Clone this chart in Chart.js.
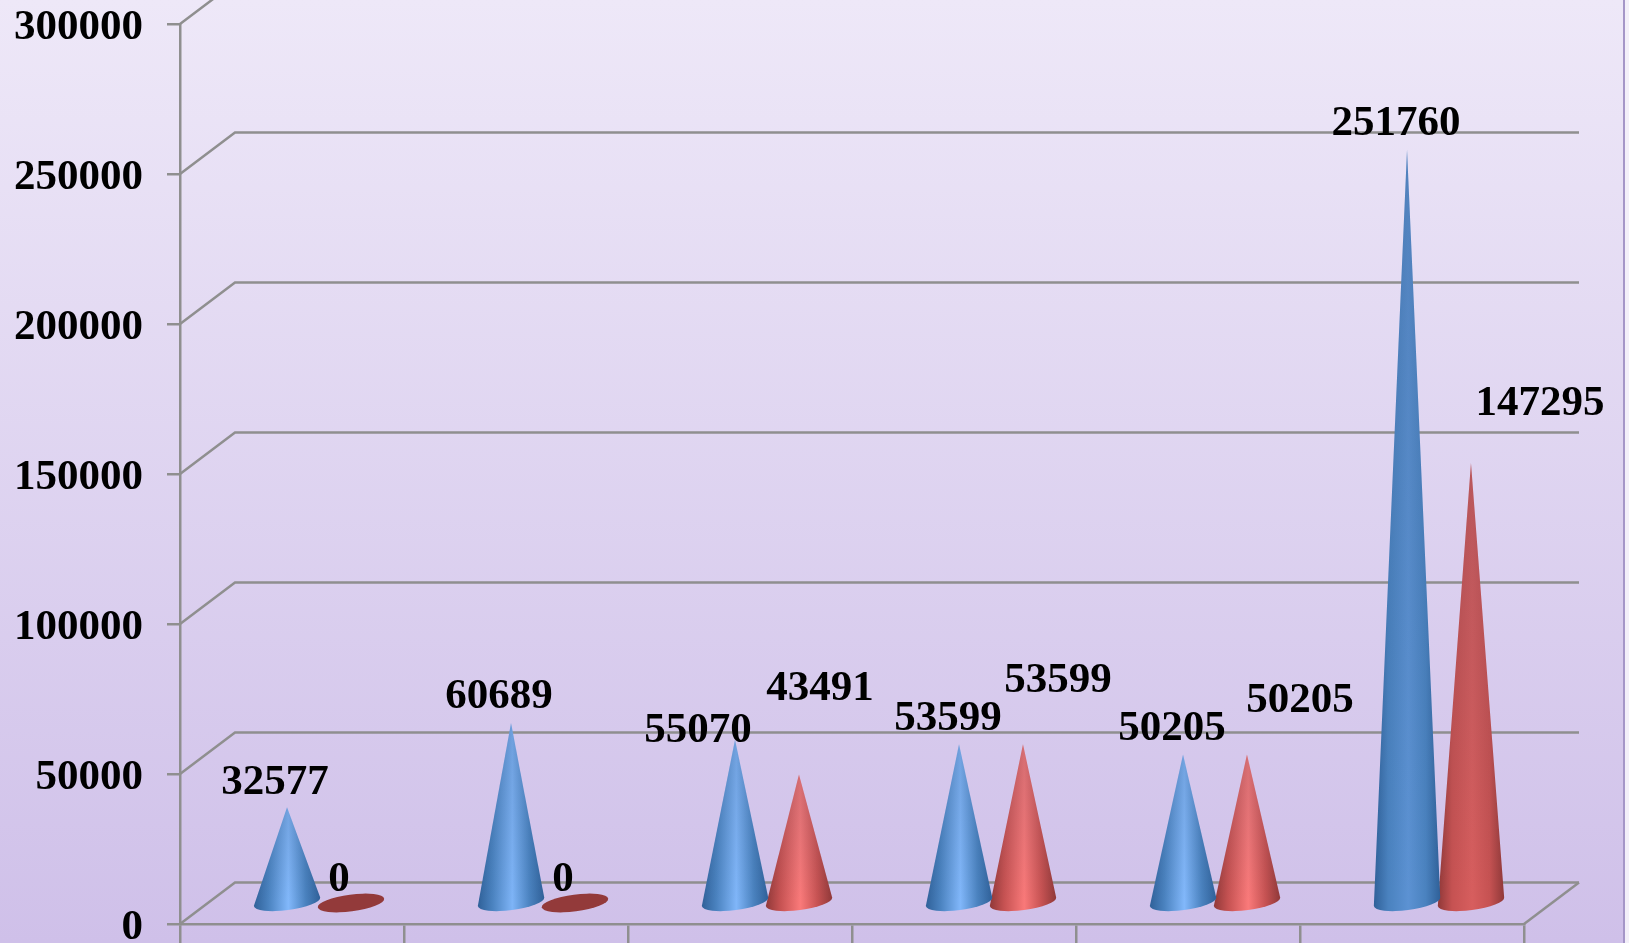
<!DOCTYPE html>
<html>
<head>
<meta charset="utf-8">
<style>
html,body{margin:0;padding:0;overflow:hidden;background:#f3eff9}
#wrap{position:absolute;left:0;top:0;width:1629px;height:943px;overflow:hidden;
background:linear-gradient(180deg,#eee8f8 0%,#cfc0e9 100%)}
#edge{position:absolute;left:1623px;top:0;width:6px;height:943px;background:#f3eff9;border-left:2px solid #a596c8;box-sizing:border-box}
canvas{position:absolute;left:0;top:0}
</style>
</head>
<body>
<div id="wrap"><canvas id="c" width="1629" height="943"></canvas><div id="edge"></div></div>
<script src="https://cdn.jsdelivr.net/npm/chart.js@4/dist/chart.umd.min.js"></script>
<script>
// ---- data ----
const categories = ["1", "2", "3", "4", "5", "6"];
const seriesBlue = [32577, 60689, 55070, 53599, 50205, 251760];
const seriesRed  = [0, 0, 43491, 53599, 50205, 147295];
const yTicks = [0, 50000, 100000, 150000, 200000, 250000, 300000];

// ---- label placement relative to each cone tip (px), by hand as in the reference ----
const blueLabelShift = [[-12,-22],[-12,-24],[-37,-7],[-11,-23],[-11,-23],[-11,-24]];
const redLabelShift  = [[-12,-23],[-12,-23],[21,-84],[35,-61],[53,-51],[69,-57]];

// ---- style ----
const GRID = "#8f8f8f";
const FONT = "bold 43px 'Liberation Serif'";
const DEPTH = {dx: 55, dy: -41.5};       // floor depth of the 3D box
const MID = {dx: 27, dy: -21};           // cones stand mid-way in the depth
const TIP_DROP = 2;
const TICK_DROP = 3.5;
const palette = {
  blue: {edge:"#2f6098", mid:"#4a82bf", lightShort:"#82b8fb", lightTall:"#5c92d3", flat:"#3f74ad"},
  red:  {edge:"#8f3838", mid:"#c65252", lightShort:"#fa7a7a", lightTall:"#d65d5d", flat:"#933a3a"}
};

function mix(a,b,t){
  const p=s=>[1,3,5].map(i=>parseInt(s.substr(i,2),16));
  const A=p(a),B=p(b);
  return "rgb("+A.map((v,i)=>Math.round(v+(B[i]-v)*t)).join(",")+")";
}

function drawCone(ctx,x,tipY,baseY,halfW,pal){
  const rot=-7.5*Math.PI/180, b=8.4, h=baseY-tipY;
  ctx.save();
  if(h<4){
    ctx.beginPath();ctx.ellipse(x,baseY,halfW,b,rot,0,Math.PI*2);
    ctx.fillStyle=pal.flat;ctx.fill();ctx.restore();return;
  }
  const ex=Math.cos(rot)*halfW, ey=Math.sin(rot)*halfW;
  ctx.beginPath();
  ctx.moveTo(x,tipY);
  ctx.lineTo(x+ex,baseY+ey);
  ctx.ellipse(x,baseY,halfW,b,rot,0,Math.PI);
  ctx.closePath();
  ctx.clip();
  const tall=Math.min(1,Math.max(0,(h-150)/300));
  const light=mix(pal.lightShort,pal.lightTall,tall);
  const g=ctx.createLinearGradient(x-halfW,0,x+halfW,0);
  g.addColorStop(0,pal.edge);
  g.addColorStop(0.22,pal.mid);
  g.addColorStop(0.52,light);
  g.addColorStop(0.78,pal.mid);
  g.addColorStop(1,pal.edge);
  ctx.fillStyle=g;
  ctx.fillRect(x-halfW-2,tipY-2,2*halfW+4,h+b+6);
  // darken toward the tip so the highlight stays near the base
  const d=ctx.createLinearGradient(0,tipY,0,baseY);
  d.addColorStop(0,"rgba(30,50,80,0.16)");
  d.addColorStop(0.7,"rgba(30,50,80,0.05)");
  d.addColorStop(1,"rgba(30,50,80,0)");
  ctx.fillStyle=d;
  ctx.fillRect(x-halfW-2,tipY-2,2*halfW+4,h+b+6);
  ctx.restore();
}

const box3d = {
  id:"box3d",
  afterLayout(chart){
    chart.scales.y.getLabelItems().forEach(it=>{it.options.translation[1]+=TICK_DROP;});
  },
  beforeDatasetsDraw(chart){
    const {ctx,scales:{x,y}}=chart, L=x.left, R=x.right;
    ctx.save();
    ctx.strokeStyle=GRID;ctx.lineWidth=2.5;ctx.lineJoin="miter";
    yTicks.forEach(v=>{
      const py=y.getPixelForValue(v);
      ctx.beginPath();
      ctx.moveTo(L,py);
      ctx.lineTo(L+DEPTH.dx,py+DEPTH.dy);
      ctx.lineTo(R+DEPTH.dx,py+DEPTH.dy);
      ctx.stroke();
    });
    // floor's right edge
    const p0=y.getPixelForValue(0);
    ctx.beginPath();ctx.moveTo(R,p0);ctx.lineTo(R+DEPTH.dx,p0+DEPTH.dy);ctx.stroke();
    ctx.restore();
  },
  beforeDatasetDraw(chart,args){
    const ctx=chart.ctx, meta=args.meta;
    const pal=args.index===0?palette.blue:palette.red;
    meta.data.forEach(el=>{
      const base=el.base+MID.dy;
      const tip=Math.min(base,el.y+MID.dy+TIP_DROP);
      drawCone(ctx,el.x+MID.dx,tip,base,el.width/2+1.5,pal);
    });
    return false;
  },
  afterDatasetsDraw(chart){
    const ctx=chart.ctx;
    ctx.save();
    ctx.font=FONT;ctx.fillStyle="#000";ctx.textAlign="center";ctx.textBaseline="middle";
    chart.data.datasets.forEach((ds,i)=>{
      const shifts=i===0?blueLabelShift:redLabelShift;
      chart.getDatasetMeta(i).data.forEach((el,j)=>{
        const s=shifts[j];
        ctx.fillText(String(ds.data[j]),el.x+MID.dx+s[0],el.y+MID.dy+s[1]);
      });
    });
    ctx.restore();
  }
};

new Chart(document.getElementById("c"),{
  type:"bar",
  data:{labels:categories,datasets:[
    {label:"Series 1",data:seriesBlue,backgroundColor:"#4a82bf",barPercentage:1,categoryPercentage:0.571},
    {label:"Series 2",data:seriesRed,backgroundColor:"#c65252",barPercentage:1,categoryPercentage:0.571}
  ]},
  plugins:[box3d],
  options:{
    responsive:false,animation:false,
    layout:{padding:{top:24,right:105,bottom:0,left:0}},
    plugins:{legend:{display:false},title:{display:false},tooltip:{enabled:false}},
    scales:{
      x:{
        type:"category",offset:true,
        grid:{offset:true,drawOnChartArea:false,drawTicks:true,tickLength:19,color:GRID,lineWidth:2.5},
        border:{display:true,color:GRID,width:2.5},
        ticks:{display:false},
        afterFit(s){s.height=19;s.paddingLeft=0;s.paddingRight=0;}
      },
      y:{
        min:0,max:300000,
        afterBuildTicks(s){s.ticks=yTicks.map(v=>({value:v}));},
        grid:{drawOnChartArea:false,drawTicks:true,tickLength:13,color:GRID,lineWidth:2.5},
        border:{display:true,color:GRID,width:2.5},
        ticks:{color:"#000",padding:24,font:{family:"'Liberation Serif'",weight:"bold",size:43},autoSkip:false,maxRotation:0,callback:v=>String(v)},
        afterFit(s){s.width=180;s.paddingTop=0;s.paddingBottom=0;}
      }
    }
  }
});
</script>
</body>
</html>
